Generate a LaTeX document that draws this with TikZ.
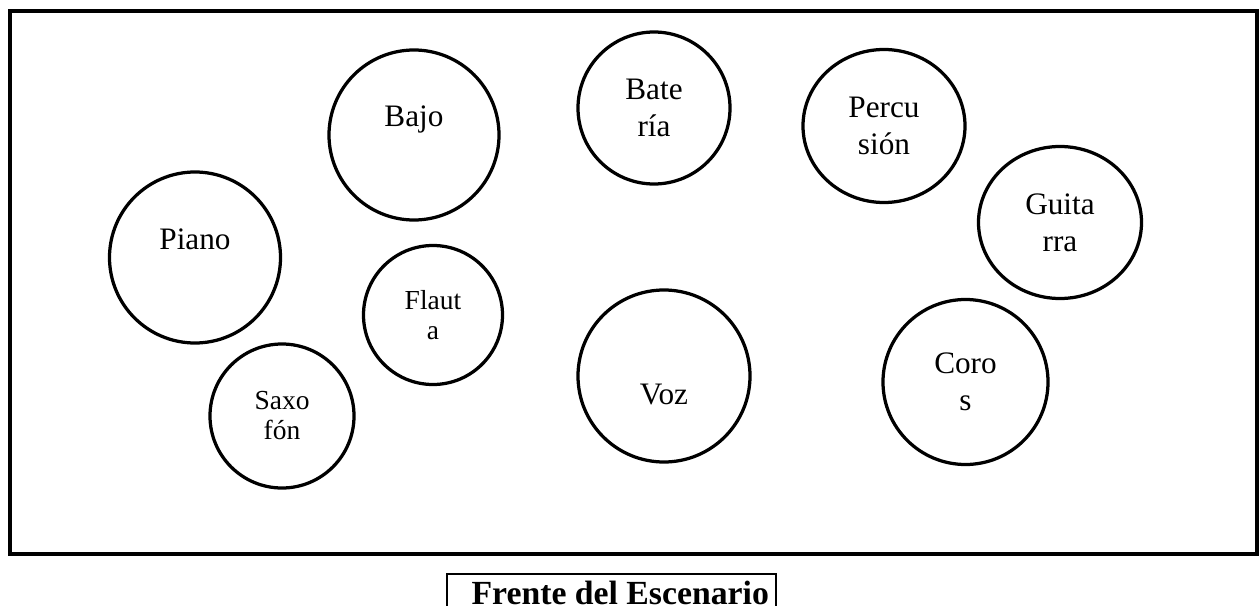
\documentclass[tikz,border=0pt]{standalone}
\usepackage{fontspec}
\setmainfont{Liberation Serif}
\usetikzlibrary{shapes.geometric}

\begin{document}
\begin{tikzpicture}[
            x=0.4pt, y=-0.4pt,
            seat/.style={
                circle, draw, line width=1.3pt, inner sep=0pt, align=center,
                minimum size=#1, font=\fontsize{12.5}{14.8}\selectfont
            },
            oval seat/.style 2 args={
                ellipse, draw, line width=1.3pt, inner sep=0pt, align=center,
                minimum width=#1, minimum height=#2, font=\fontsize{12.5}{14.8}\selectfont
            },
            small/.style={font=\fontsize{11}{12}\selectfont},
            stage/.style={draw, line width=1.6pt},
            front/.style={
                draw, line width=0.8pt, inner sep=0pt, anchor=north west,
                minimum width=131.6pt, minimum height=15pt,
                font=\bfseries\fontsize{13.5}{16}\selectfont
            }
        ]
        \clip (0, 0) rectangle (1259, 606);

        % escenario
        \draw[stage] (9.5, 11) rectangle (1257, 554);

        % fila de atras
        \node[seat=68pt] (bajo) at (414, 135) {Bajo\\\mbox{}};
        \node[seat=60.8pt] (bateria) at (654, 108) {Bate\\ría};
        \node[oval seat={64.8pt}{61.2pt}] (percusion) at (884, 126) {Percu\\sión};
        \node[oval seat={65.2pt}{60.8pt}] (guitarra) at (1060, 222.5) {Guita\\rra};

        % fila del medio
        \node[seat=68.4pt] (piano) at (195, 257.5) {Piano\\\mbox{}};
        \node[seat=55.6pt, small] (flauta) at (433, 315) {Flaut\\a};

        % fila de adelante
        \node[seat=57.6pt, small] (saxofon) at (282, 416) {Saxo\\fón};
        \node[seat=68.8pt] (voz) at (664, 376) {\vphantom{B}\\Voz};
        \node[seat=66pt] (coros) at (965.5, 382) {Coro\\s};

        \node[front] (frente) at (446, 573) {\hspace*{7pt}Frente del Escenario};
    \end{tikzpicture}
\end{document}
